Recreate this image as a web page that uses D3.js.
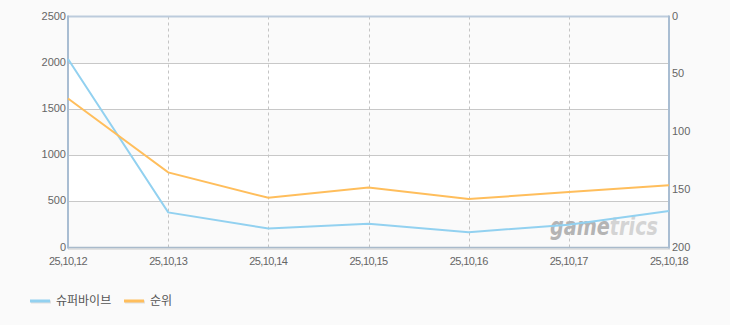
<!DOCTYPE html>
<html>
<head>
<meta charset="utf-8">
<script src="https://cdn.jsdelivr.net/npm/d3@7"></script>
<style>
  body { margin: 0; background: #fafafa; }
  svg { display: block; }
  text { font-family: "Liberation Sans", Arial, sans-serif; }
</style>
</head>
<body>
<div id="chart"></div>
<script>
// 데이터
var dates = ["25,10,12", "25,10,13", "25,10,14", "25,10,15", "25,10,16", "25,10,17", "25,10,18"];
var players = [2040, 380, 205, 258, 166, 247, 395];   // 슈퍼바이브
var ranks = [71, 135, 157, 148, 158, 152, 146];       // 순위
var leftTicks = [0, 500, 1000, 1500, 2000, 2500];
var rightTicks = [0, 50, 100, 150, 200];
var seriesNames = ["슈퍼바이브", "순위"];
var seriesColors = ["#92d1f0", "#ffbe5c"];

var W = 730, H = 325;
var pL = 68, pR = 669, pT = 16.5, pB = 247.5;

var svg = d3.select("#chart").append("svg")
    .attr("width", W).attr("height", H);

var x = d3.scalePoint().domain(dates).range([pL, pR]);
var yL = d3.scaleLinear().domain([0, 2500]).range([pB, pT]);
var yR = d3.scaleLinear().domain([0, 200]).range([pT, pB]);

// 배경 밴드
var bands = d3.range(0, 2500, 500);
svg.selectAll("rect.band").data(bands).enter().append("rect")
    .attr("x", pL).attr("width", pR - pL)
    .attr("y", function(d) { return yL(d + 500); })
    .attr("height", function(d) { return yL(d) - yL(d + 500); })
    .attr("fill", function(d, i) { return i % 2 == 0 ? "#fafafa" : "#ffffff"; });

// 가로 그리드
svg.selectAll("line.hg").data(leftTicks.slice(1, -1)).enter().append("line")
    .attr("x1", pL).attr("x2", pR)
    .attr("y1", function(d) { return Math.round(yL(d)) + 0.5; })
    .attr("y2", function(d) { return Math.round(yL(d)) + 0.5; })
    .attr("stroke", "#c8c8c8");

// 세로 점선
svg.selectAll("line.vg").data(dates.slice(1, -1)).enter().append("line")
    .attr("x1", function(d) { return Math.round(x(d)) + 0.5; })
    .attr("x2", function(d) { return Math.round(x(d)) + 0.5; })
    .attr("y1", pT).attr("y2", pB)
    .attr("stroke", "#c4c4c4").attr("stroke-dasharray", "3,3");

// 워터마크
var wm = svg.append("text")
    .attr("x", 550).attr("y", 235)
    .attr("font-size", 24).attr("font-weight", "bold").attr("font-style", "italic")
    .style("font-family", "'DejaVu Sans', sans-serif")
    .attr("textLength", 108).attr("lengthAdjust", "spacingAndGlyphs");
wm.append("tspan").attr("fill", "#b4b4b4").text("game");
wm.append("tspan").attr("fill", "#d4d4d4").text("trics");

// 테두리
svg.append("line").attr("x1", pL).attr("x2", pR).attr("y1", pT).attr("y2", pT)
    .attr("stroke", "#bccbdc").attr("stroke-width", 2);
svg.append("line").attr("x1", pL).attr("x2", pR + 1).attr("y1", pB + 1.5).attr("y2", pB + 1.5)
    .attr("stroke", "#e2e2e2").attr("stroke-width", 2);
svg.append("line").attr("x1", pL).attr("x2", pR).attr("y1", pB).attr("y2", pB)
    .attr("stroke", "#a9bacb").attr("stroke-width", 1.5);
svg.append("line").attr("x1", pL).attr("x2", pL).attr("y1", pT - 1).attr("y2", pB + 1)
    .attr("stroke", "#a9bdd2").attr("stroke-width", 2);
svg.append("line").attr("x1", pR).attr("x2", pR).attr("y1", pT - 1).attr("y2", pB + 1)
    .attr("stroke", "#a9bdd2").attr("stroke-width", 2);

// 축 라벨
svg.selectAll("text.yl").data(leftTicks).enter().append("text")
    .attr("x", pL - 2).attr("y", function(d) { return yL(d) + 3; })
    .attr("text-anchor", "end").attr("font-size", 11).attr("fill", "#666")
    .text(function(d) { return d; });

svg.selectAll("text.yr").data(rightTicks).enter().append("text")
    .attr("x", pR + 3).attr("y", function(d) { return yR(d) + 3; })
    .attr("font-size", 11).attr("fill", "#666")
    .text(function(d) { return d; });

svg.selectAll("text.xl").data(dates).enter().append("text")
    .attr("x", function(d) { return x(d); }).attr("y", pB + 17)
    .attr("text-anchor", "middle").attr("font-size", 11).attr("fill", "#666")
    .attr("letter-spacing", -0.6)
    .text(function(d) { return d; });

// 선
var lineL = d3.line().x(function(d, i) { return x(dates[i]); }).y(function(d) { return yL(d); });
var lineR = d3.line().x(function(d, i) { return x(dates[i]); }).y(function(d) { return yR(d); });

svg.append("path").datum(players).attr("d", lineL)
    .attr("fill", "none").attr("stroke", seriesColors[0]).attr("stroke-width", 2);
svg.append("path").datum(ranks).attr("d", lineR)
    .attr("fill", "none").attr("stroke", seriesColors[1]).attr("stroke-width", 2);

// 범례
var legX = [30, 124];
var leg = svg.selectAll("g.leg").data(seriesNames).enter().append("g")
    .attr("transform", function(d, i) { return "translate(" + legX[i] + ",301)"; });
leg.append("line").attr("x1", 1).attr("x2", 21).attr("y1", 1).attr("y2", 1)
    .attr("stroke", "#e0e0e0").attr("stroke-width", 3);
leg.append("line").attr("x1", 0).attr("x2", 20).attr("y1", 0).attr("y2", 0)
    .attr("stroke", function(d, i) { return seriesColors[i]; }).attr("stroke-width", 3);
leg.append("text").attr("x", 26).attr("y", 4)
    .attr("font-size", 12).attr("fill", "#555")
    .style("font-family", "'Noto Sans CJK KR', sans-serif")
    .text(function(d) { return d; });
</script>
</body>
</html>
